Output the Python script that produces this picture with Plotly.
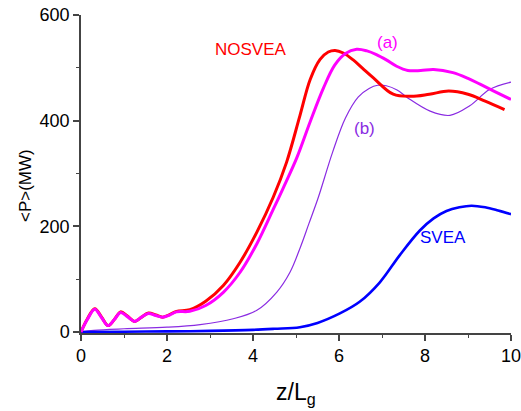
import plotly.graph_objects as go

# NOSVEA (red)
nosvea_x = [0, 0.15, 0.32, 0.48, 0.63, 0.78, 0.92, 1.08, 1.25, 1.41, 1.57, 1.74, 1.9, 2.06, 2.22, 2.53,
            2.9, 3.31, 3.7, 4.09, 4.47, 4.78, 5.09, 5.33, 5.56, 5.75, 5.91, 6.1, 6.33, 6.55, 6.8, 7.26,
            7.68, 8.1, 8.55, 9.0, 9.4, 9.85]
nosvea_y = [0, 25, 44, 28, 12, 24, 38, 30, 20, 28, 36, 32, 28, 33, 39, 42,
            58, 88, 132, 189, 255, 321, 409, 478, 516, 530, 533, 528, 515, 499, 481, 450,
            446, 450, 456, 450, 437, 421]

# curve (a) (magenta)
a_x = [0, 0.15, 0.32, 0.48, 0.63, 0.78, 0.92, 1.08, 1.25, 1.41, 1.57, 1.74, 1.9, 2.06, 2.22, 2.53,
       2.9, 3.31, 3.7, 4.09, 4.47, 4.7, 5.02, 5.33, 5.64, 5.9, 6.15, 6.41, 6.65, 6.87, 7.1, 7.34,
       7.6, 7.9, 8.2, 8.65, 9.0, 9.28, 9.6, 10.0]
a_y = [0, 24, 43, 27, 12, 24, 37, 29, 20, 28, 35, 31, 28, 32, 38, 39,
       50, 75, 113, 167, 232, 272, 330, 398, 462, 505, 527, 535, 532, 525, 515, 503,
       495, 495, 497, 491, 480, 469, 456, 440]

# curve (b) (violet)
b_x = [0, 0.3, 1.0, 2.0, 2.77, 3.54, 4.09, 4.55, 4.86, 5.1, 5.3, 5.52, 5.85, 6.15, 6.45, 6.7, 6.9,
       7.1, 7.35, 7.6, 8.12, 8.58, 9.04, 9.5, 10.0]
b_y = [0, 3, 6, 9, 14, 25, 41, 75, 113, 160, 205, 255, 340, 405, 445, 461, 467,
       466, 458, 443, 418, 410, 428, 459, 473]

# SVEA (blue)
svea_x = [0, 1, 2, 3, 4, 4.5, 5.09, 5.5, 6.02, 6.48, 6.95, 7.41, 7.88, 8.2, 8.5, 8.8, 9.08, 9.4, 9.7, 10.0]
svea_y = [0, 0.5, 1, 2, 4, 6, 9, 17, 35, 57, 94, 145, 192, 215, 229, 236, 239, 236, 230, 223]

x_ticks = [0, 2, 4, 6, 8, 10]
y_ticks = [0, 200, 400, 600]

FONT = "Liberation Sans, Arial, sans-serif"

fig = go.Figure()
fig.add_trace(go.Scatter(x=b_x, y=b_y, mode="lines", line=dict(color="#8a2be2", width=1.2, shape="spline", smoothing=1.0)))
fig.add_trace(go.Scatter(x=svea_x, y=svea_y, mode="lines", line=dict(color="#0000ff", width=2.6, shape="spline", smoothing=1.0)))
fig.add_trace(go.Scatter(x=nosvea_x, y=nosvea_y, mode="lines", line=dict(color="#ff0000", width=3, shape="spline", smoothing=1.0)))
fig.add_trace(go.Scatter(x=a_x, y=a_y, mode="lines", line=dict(color="#ff00ff", width=3, shape="spline", smoothing=1.0)))

labels = [
    ("NOSVEA", 3.96, 534, "#ff0000"),
    ("(a)", 7.13, 548, "#ff00ff"),
    ("(b)", 6.6, 385, "#8a2be2"),
    ("SVEA", 8.41, 179, "#0000ff"),
]
for t, x, y, c in labels:
    fig.add_annotation(x=x, y=y, text=t, showarrow=False, font=dict(color=c, size=17, family=FONT),
                       xanchor="center", yanchor="middle")

fig.add_annotation(xref="paper", yref="paper", x=(25 - 81) / 430, y=(333 - 186) / 318,
                   text="&lt;P&gt;(MW)", textangle=-90, showarrow=False,
                   font=dict(size=17, family=FONT, color="#000"), xanchor="center", yanchor="middle")
fig.add_annotation(xref="paper", yref="paper", x=0.5, y=-(393 - 333) / 318,
                   text="z/L<sub>g</sub>", showarrow=False,
                   font=dict(size=23, family=FONT, color="#000"), xanchor="center", yanchor="middle")

axis_common = dict(showline=True, linecolor="#444", linewidth=1.5, ticks="outside", ticklen=6,
                   tickwidth=1.5, tickcolor="#444", showgrid=False, zeroline=False,
                   ticklabeloverflow="allow", automargin=False,
                   tickfont=dict(size=18, family=FONT, color="#000"))
fig.update_xaxes(range=[0, 10], tickvals=x_ticks, ticktext=[str(v) for v in x_ticks],
                 minor=dict(tickvals=[1, 3, 5, 7, 9], ticklen=3, ticks="outside", tickcolor="#444", tickwidth=1.2),
                 **axis_common)
fig.update_yaxes(range=[-2, 600], tickvals=y_ticks, ticktext=[str(v) for v in y_ticks],
                 minor=dict(tickvals=[100, 300, 500], ticklen=3, ticks="outside", tickcolor="#444", tickwidth=1.2),
                 **axis_common)

fig.update_layout(width=521, height=411, margin=dict(l=81, r=10, t=15, b=78, autoexpand=False),
                  plot_bgcolor="white", paper_bgcolor="white", showlegend=False,
                  font=dict(family=FONT))
# remove the default 8px page margin so the figure sits flush in the window
fig.write_html("out.html", config={"displayModeBar": False},
               post_script="document.body.style.margin='0';document.body.style.overflow='hidden';")
